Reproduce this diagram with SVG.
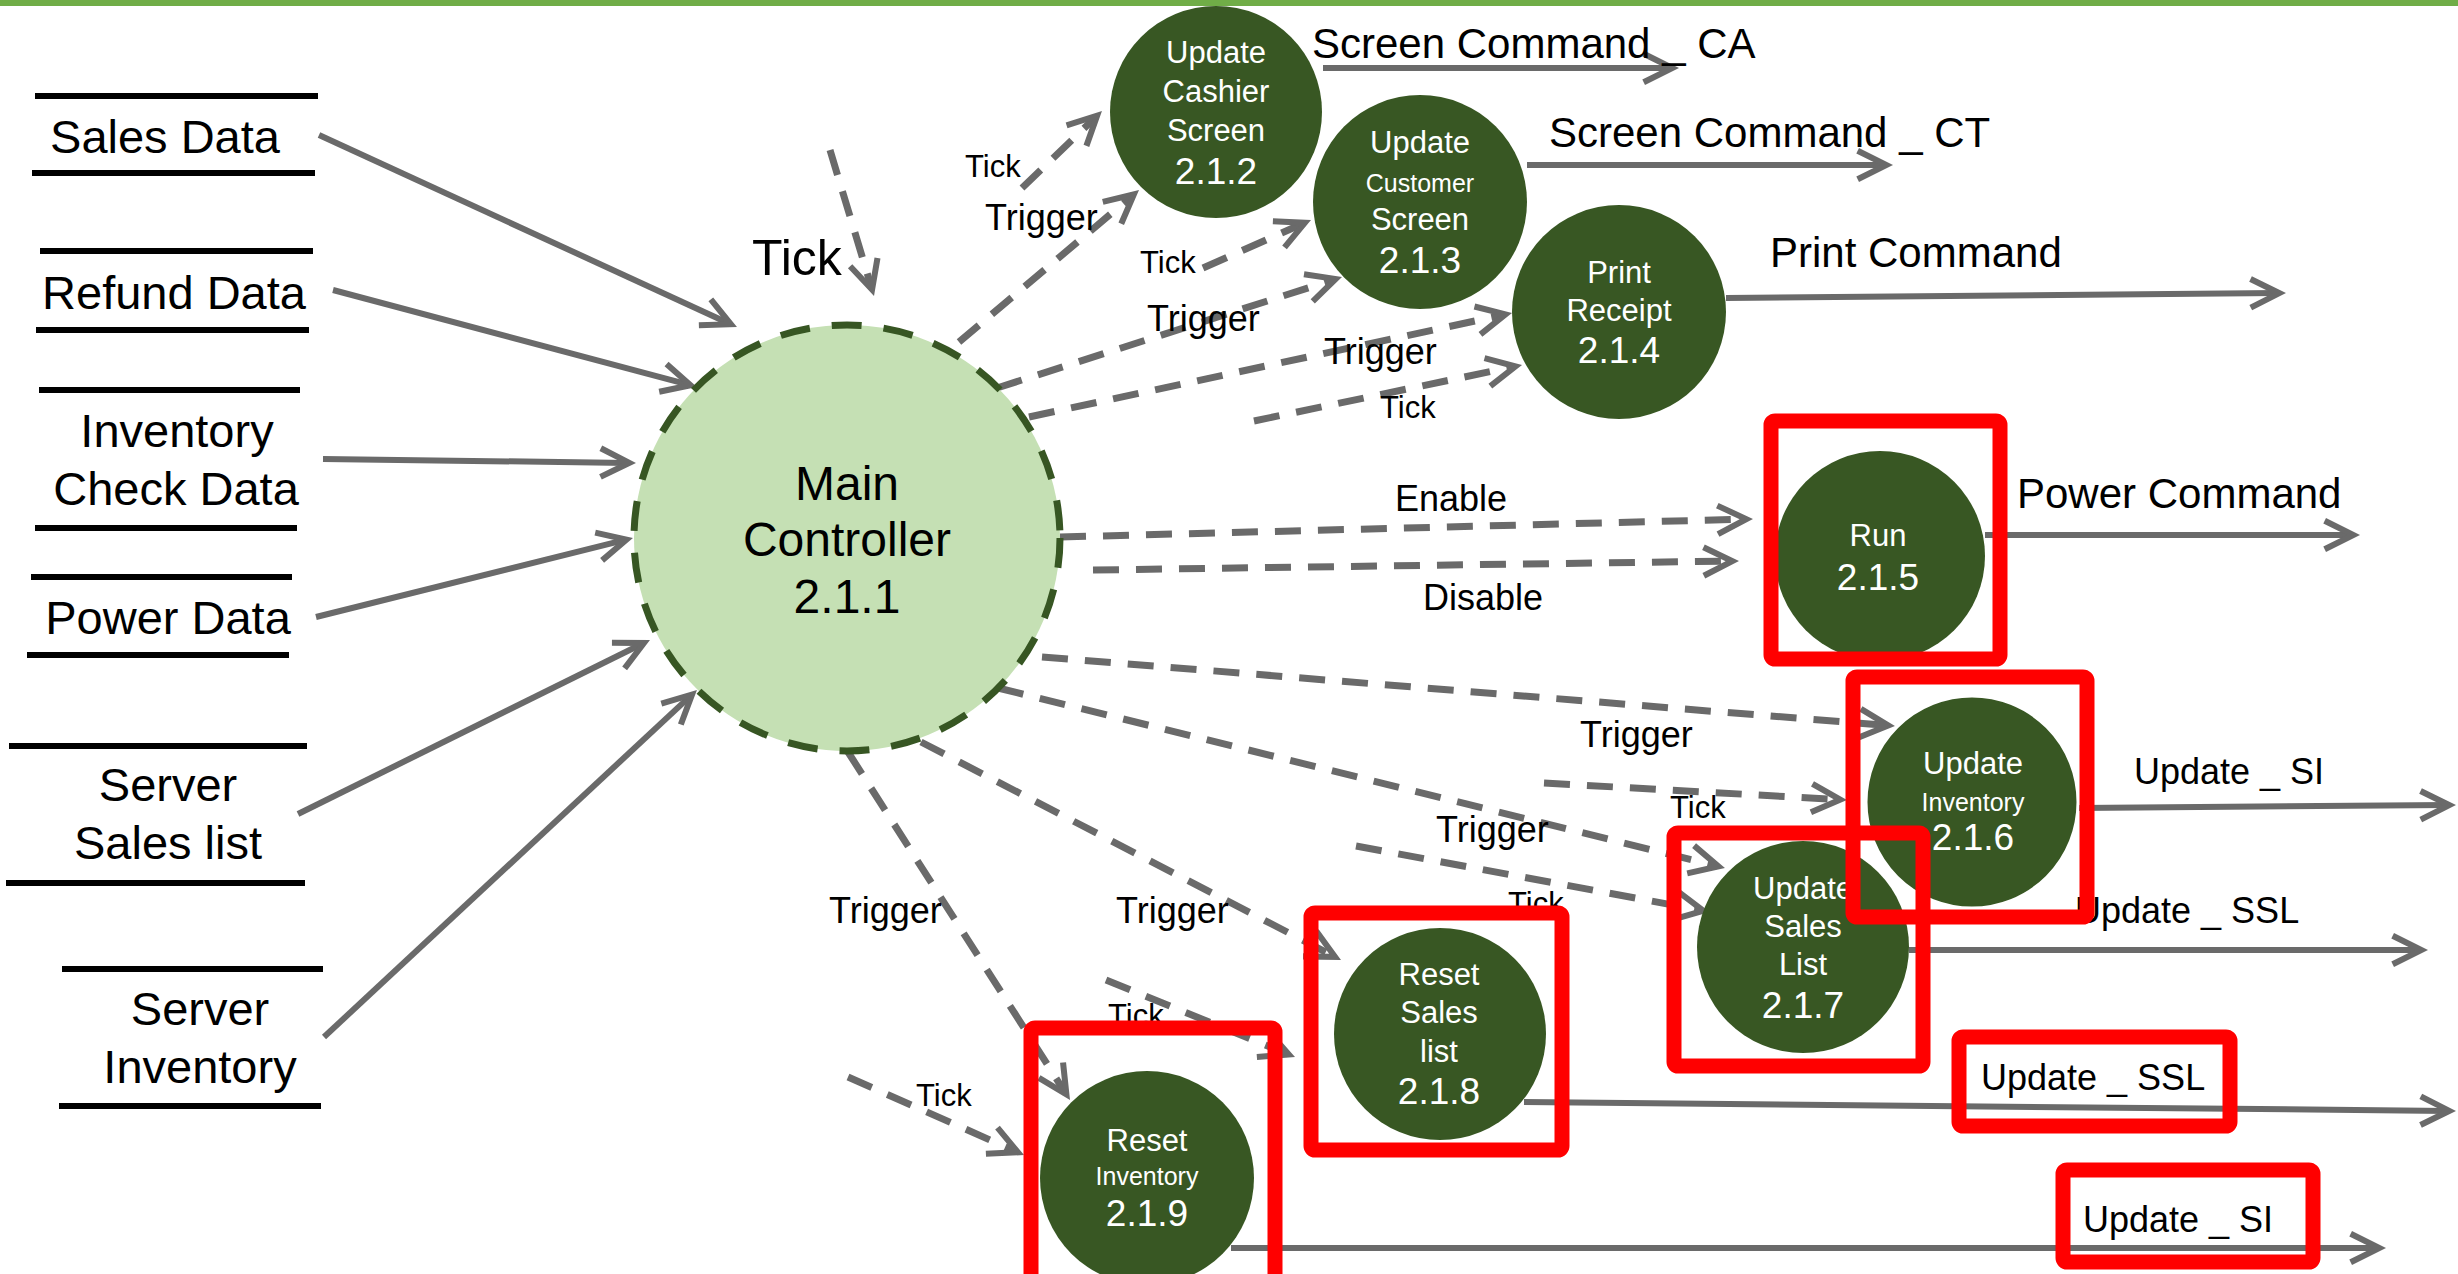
<svg xmlns="http://www.w3.org/2000/svg" width="2458" height="1274" viewBox="0 0 2458 1274">
  <style>
    text { font-family: "Liberation Sans", Arial, sans-serif; }
    .store line { stroke: #000; stroke-width: 6; }
    .store text { font-size: 47px; fill: #000; text-anchor: middle; }
    .proc ellipse { fill: #385723; }
    .proc text { fill: #fff; text-anchor: middle; font-size: 31px; }
    .proc .sm { font-size: 25px; }
    .proc .num { font-size: 37px; }
    .flow { stroke: #6a6a6a; stroke-width: 6; fill: none; marker-end: url(#ah); }
    .dash { stroke-width: 7; stroke-dasharray: 26 17; }
    .lbl { font-size: 36px; fill: #000; }
    .lbl.tk { font-size: 31px; }
    .lbl.out { font-size: 42px; }
    .hl { fill: none; stroke: #ff0000; stroke-width: 15; }
  </style>
  <defs>
    <marker id="ah" markerUnits="userSpaceOnUse" viewBox="-45 -25 60 50" markerWidth="60" markerHeight="50" refX="0" refY="0" orient="auto">
      <polygon points="8,0 -26,-17 -28.7,-11.6 -5.4,0 -28.7,11.6 -26,17" fill="#6a6a6a"/>
    </marker>
  </defs>

  <rect x="0" y="0" width="2458" height="1274" fill="#fff"/>
  <rect x="0" y="0" width="2458" height="6" fill="#70ad47"/>

  <!-- data stores -->
  <g id="ds-sales" class="store">
    <line x1="35" y1="96" x2="318" y2="96"/>
    <line x1="32" y1="173" x2="315" y2="173"/>
    <text x="165" y="153">Sales Data</text>
  </g>
  <g id="ds-refund" class="store">
    <line x1="40" y1="251" x2="313" y2="251"/>
    <line x1="36" y1="330" x2="309" y2="330"/>
    <text x="174" y="309">Refund Data</text>
  </g>
  <g id="ds-inventory-check" class="store">
    <line x1="39" y1="390" x2="300" y2="390"/>
    <line x1="35" y1="528" x2="297" y2="528"/>
    <text x="177" y="447">Inventory</text>
    <text x="176" y="505">Check Data</text>
  </g>
  <g id="ds-power" class="store">
    <line x1="31" y1="577" x2="292" y2="577"/>
    <line x1="27" y1="655" x2="289" y2="655"/>
    <text x="168" y="634">Power Data</text>
  </g>
  <g id="ds-server-sales" class="store">
    <line x1="9" y1="746" x2="307" y2="746"/>
    <line x1="6" y1="883" x2="305" y2="883"/>
    <text x="168" y="801">Server</text>
    <text x="168" y="859">Sales list</text>
  </g>
  <g id="ds-server-inventory" class="store">
    <line x1="62" y1="969" x2="323" y2="969"/>
    <line x1="59" y1="1106" x2="321" y2="1106"/>
    <text x="200" y="1025">Server</text>
    <text x="200" y="1083">Inventory</text>
  </g>

  <!-- connectors -->
  <g id="connectors">
    <!-- inputs to main controller -->
    <path class="flow" d="M319,135 L729.7,323.7"/>
    <path class="flow" d="M333,290 L689.3,384.9"/>
    <path class="flow" d="M323,459 L628,462.9"/>
    <path class="flow" d="M316,617 L625.2,539.9"/>
    <path class="flow" d="M298,814 L642.8,643.5"/>
    <path class="flow" d="M324,1037 L691.1,695.4"/>

    <!-- outputs -->
    <path class="flow" d="M1323,68 L1671,68"/>
    <path class="flow" d="M1527,165 L1885,165"/>
    <path class="flow" d="M1726,298 L2278,293.1"/>
    <path class="flow" d="M1985,535 L2352,535"/>
    <path class="flow" d="M2079,808 L2448,805.1"/>
    <path class="flow" d="M1909,950 L2420,950"/>
    <path class="flow" d="M1524,1102 L2448,1110.9"/>
    <path class="flow" d="M1231,1248 L2378,1248"/>

    <!-- control flows -->
    <path class="flow dash" d="M830,150 L871.7,288.3"/>
    <path class="flow dash" d="M959,342 L1132.9,195.2"/>
    <path class="flow dash" d="M1022,188 L1096.2,116.6"/>
    <path class="flow dash" d="M1203,268 L1303.7,223.2"/>
    <path class="flow dash" d="M997,388 L1334.4,279.4"/>
    <path class="flow dash" d="M1029,417 L1504.2,314.7"/>
    <path class="flow dash" d="M1254,421 L1514.2,366.6"/>
    <path class="flow dash" d="M1060,537 L1745,519.2"/>
    <path class="flow dash" d="M1093,570 L1731,561.1"/>
    <path class="flow dash" d="M1042,657 L1887,725.4"/>
    <path class="flow dash" d="M1544,783 L1839,799.6"/>
    <path class="flow dash" d="M998,688 L1717.2,866.1"/>
    <path class="flow dash" d="M1356,846 L1702.1,910.5"/>
    <path class="flow dash" d="M921,742 L1333.9,956.3"/>
    <path class="flow dash" d="M1106,980 L1287.6,1054"/>
    <path class="flow dash" d="M848,752 L1065.7,1093.3"/>
    <path class="flow dash" d="M848,1077 L1016.7,1151.8"/>

    <!-- flow labels -->
    <text class="lbl" x="752" y="275" style="font-size:50px">Tick</text>
    <text class="lbl tk" x="965" y="177">Tick</text>
    <text class="lbl" x="985" y="230">Trigger</text>
    <text class="lbl tk" x="1140" y="273">Tick</text>
    <text class="lbl" x="1147" y="331">Trigger</text>
    <text class="lbl" x="1324" y="364">Trigger</text>
    <text class="lbl tk" x="1380" y="418">Tick</text>
    <text class="lbl" x="1395" y="511">Enable</text>
    <text class="lbl" x="1423" y="610">Disable</text>
    <text class="lbl" x="1580" y="747">Trigger</text>
    <text class="lbl tk" x="1670" y="818">Tick</text>
    <text class="lbl" x="1436" y="842">Trigger</text>
    <text class="lbl tk" x="1508" y="914">Tick</text>
    <text class="lbl" x="1116" y="923">Trigger</text>
    <text class="lbl tk" x="1108" y="1026">Tick</text>
    <text class="lbl" x="829" y="923">Trigger</text>
    <text class="lbl tk" x="916" y="1106">Tick</text>

    <text class="lbl out" x="1312" y="58">Screen Command _ CA</text>
    <text class="lbl out" x="1549" y="147">Screen Command _ CT</text>
    <text class="lbl out" x="1770" y="267">Print Command</text>
    <text class="lbl out" x="2017" y="508">Power Command</text>
    <text class="lbl" x="2134" y="784">Update _ SI</text>
    <text class="lbl" x="2075" y="923">Update _ SSL</text>
    <text class="lbl" x="1981" y="1090">Update _ SSL</text>
    <text class="lbl" x="2083" y="1232">Update _ SI</text>
  </g>

  <!-- main controller -->
  <g id="p211">
    <circle cx="847" cy="538" r="213" fill="#c5e0b4" stroke="#375623" stroke-width="7" stroke-dasharray="30 22"/>
    <text x="847" y="500" font-size="48" text-anchor="middle">Main</text>
    <text x="847" y="556" font-size="48" text-anchor="middle">Controller</text>
    <text x="847" y="613" font-size="48" text-anchor="middle">2.1.1</text>
  </g>

  <!-- processes -->
  <g id="p212" class="proc">
    <ellipse cx="1216" cy="112" rx="106" ry="106"/>
    <text x="1216" y="63">Update</text>
    <text x="1216" y="102">Cashier</text>
    <text x="1216" y="141">Screen</text>
    <text class="num" x="1216" y="184">2.1.2</text>
  </g>
  <g id="p213" class="proc">
    <ellipse cx="1420" cy="202" rx="107" ry="107"/>
    <text x="1420" y="153">Update</text>
    <text class="sm" x="1420" y="192">Customer</text>
    <text x="1420" y="230">Screen</text>
    <text class="num" x="1420" y="273">2.1.3</text>
  </g>
  <g id="p214" class="proc">
    <ellipse cx="1619" cy="312" rx="107" ry="107"/>
    <text x="1619" y="283">Print</text>
    <text x="1619" y="321">Receipt</text>
    <text class="num" x="1619" y="363">2.1.4</text>
  </g>
  <g id="p215" class="proc">
    <ellipse cx="1880" cy="556" rx="105" ry="105"/>
    <text x="1878" y="546">Run</text>
    <text class="num" x="1878" y="590">2.1.5</text>
  </g>
  <g id="p217" class="proc">
    <ellipse cx="1803" cy="947" rx="106" ry="106"/>
    <text x="1803" y="899">Update</text>
    <text x="1803" y="937">Sales</text>
    <text x="1803" y="975">List</text>
    <text class="num" x="1803" y="1018">2.1.7</text>
  </g>
  <g id="p216" class="proc">
    <ellipse cx="1972" cy="802" rx="106" ry="106" stroke="#fff" stroke-width="3"/>
    <text x="1973" y="774">Update</text>
    <text class="sm" x="1973" y="811">Inventory</text>
    <text class="num" x="1973" y="850">2.1.6</text>
  </g>
  <g id="p218" class="proc">
    <ellipse cx="1440" cy="1034" rx="106" ry="106"/>
    <text x="1439" y="985">Reset</text>
    <text x="1439" y="1023">Sales</text>
    <text x="1439" y="1062">list</text>
    <text class="num" x="1439" y="1104">2.1.8</text>
  </g>
  <g id="p219" class="proc">
    <ellipse cx="1147" cy="1178" rx="107" ry="107"/>
    <text x="1147" y="1151">Reset</text>
    <text class="sm" x="1147" y="1185">Inventory</text>
    <text class="num" x="1147" y="1226">2.1.9</text>
  </g>

  <!-- highlight frames -->
  <g id="highlights">
    <rect class="hl" x="1771" y="421" width="229" height="238" rx="4"/>
    <rect class="hl" x="1853" y="677" width="234" height="240" rx="4"/>
    <rect class="hl" x="1674" y="833" width="249" height="233" rx="4"/>
    <rect class="hl" x="1311" y="913" width="251" height="237" rx="4"/>
    <rect class="hl" x="1031" y="1028" width="244" height="262" rx="4"/>
    <rect class="hl" x="1959" y="1037" width="271" height="89" rx="4"/>
    <rect class="hl" x="2063" y="1170" width="250" height="92" rx="4"/>
  </g>
</svg>
